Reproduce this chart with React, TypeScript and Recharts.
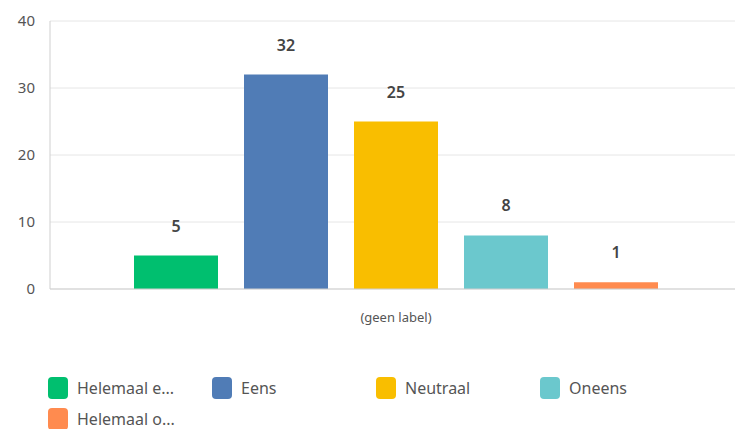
import { BarChart, Bar, XAxis, YAxis, CartesianGrid, LabelList } from "recharts";

const categories = ["(geen label)"];
const seriesNames = ["Helemaal eens", "Eens", "Neutraal", "Oneens", "Helemaal oneens"];
const legendLabels = ["Helemaal e...", "Eens", "Neutraal", "Oneens", "Helemaal o..."];
const seriesValues = [5, 32, 25, 8, 1];
const seriesColors = ["#00bf6f", "#507cb6", "#f9be00", "#6bc8cd", "#ff8b4f"];
const yTicks = [0, 10, 20, 30, 40];

const data = categories.map((name) => {
  const row: Record<string, string | number> = { name };
  seriesNames.forEach((s, i) => {
    row[s] = seriesValues[i];
  });
  return row;
});

const font = "'Noto Sans', Roboto, sans-serif";

export default function App() {
  return (
    <div
      style={{
        position: "absolute",
        left: 0,
        top: 0,
        width: 735,
        height: 429,
        overflow: "hidden",
        background: "#fff",
        fontFamily: font,
      }}
    >
      <BarChart
        width={742}
        height={345}
        data={data}
        margin={{ top: 21, right: 0, left: 0, bottom: 0 }}
        barCategoryGap={84}
        barGap={26}
      >
        <CartesianGrid vertical={false} stroke="#e6e6e6" />
        <XAxis
          dataKey="name"
          height={56}
          axisLine={{ stroke: "#cfcfcf" }}
          tickLine={false}
          tickSize={0}
          tickMargin={24}
          tick={{ fontSize: 13, fill: "#555", fontFamily: font }}
        />
        <YAxis
          width={50}
          domain={[0, 40]}
          ticks={yTicks}
          axisLine={{ stroke: "#cfcfcf" }}
          tickLine={false}
          tickSize={0}
          tickMargin={15}
          tick={{ fontSize: 15, fill: "#555", fontFamily: font }}
        />
        {seriesNames.map((s, i) => (
          <Bar key={s} dataKey={s} fill={seriesColors[i]} barSize={84} isAnimationActive={false}>
            <LabelList
              dataKey={s}
              position="top"
              offset={24}
              style={{ fontSize: 16, fontWeight: 600, fill: "#444", fontFamily: font }}
            />
          </Bar>
        ))}
      </BarChart>
      {legendLabels.map((label, i) => (
        <div
          key={label}
          style={{
            position: "absolute",
            left: 48 + (i % 4) * 164,
            top: 377 + Math.floor(i / 4) * 31,
            display: "flex",
            alignItems: "center",
            height: 22,
          }}
        >
          <div
            style={{
              width: 20,
              height: 22,
              borderRadius: 4,
              background: seriesColors[i],
              marginRight: 9,
            }}
          />
          <span style={{ fontSize: 16, color: "#555" }}>{label}</span>
        </div>
      ))}
    </div>
  );
}
